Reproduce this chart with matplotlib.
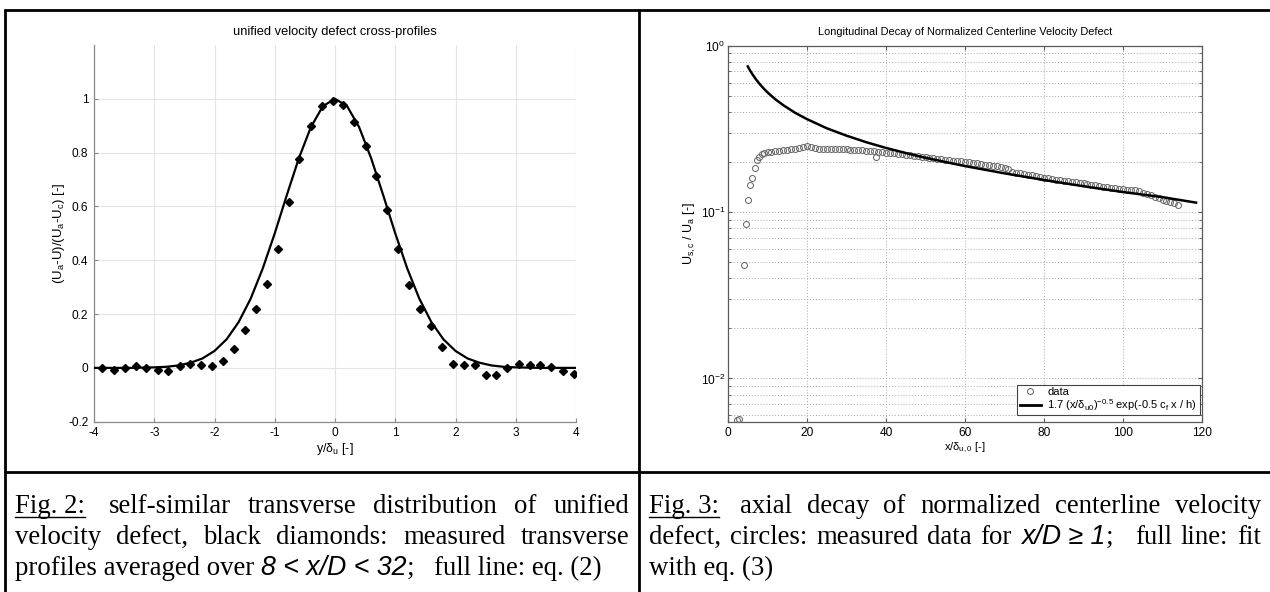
import matplotlib
matplotlib.use('Agg')
import matplotlib.pyplot as plt
from matplotlib.lines import Line2D
from matplotlib.ticker import FixedLocator, FixedFormatter, LogLocator, NullFormatter

plt.rcParams['font.family'] = ['Liberation Sans', 'DejaVu Sans']
plt.rcParams['mathtext.default'] = 'regular'
plt.rcParams['axes.unicode_minus'] = False

W, H, DPI = 1270, 592, 100

# ---------------- Fig. 2 data (transverse profile) ----------------
diamond_pos = [-3.86, -3.67, -3.49, -3.31, -3.13, -2.94, -2.77, -2.58, -2.40, -2.22, -2.04,
               -1.86, -1.67, -1.49, -1.31, -1.13, -0.94, -0.77, -0.59, -0.40, -0.22, -0.04,
               0.14, 0.32, 0.51, 0.68, 0.87, 1.05, 1.23, 1.41, 1.59, 1.78, 1.96,
               2.14, 2.32, 2.50, 2.68, 2.86, 3.05, 3.23, 3.41, 3.59, 3.78, 3.96]
diamond_val = [0.000, -0.006, 0.000, 0.007, 0.001, -0.009, -0.010, 0.006, 0.015, 0.011, 0.006,
               0.027, 0.072, 0.141, 0.219, 0.311, 0.441, 0.616, 0.775, 0.900, 0.972, 0.991,
               0.978, 0.913, 0.823, 0.714, 0.587, 0.443, 0.307, 0.219, 0.157, 0.077, 0.014,
               0.010, 0.009, -0.026, -0.025, -0.001, 0.015, 0.009, 0.009, 0.002, -0.012, -0.024]
eq2_pos = [-4.0, -3.8, -3.6, -3.4, -3.2, -3.0, -2.8, -2.6, -2.4, -2.2, -2.0, -1.8, -1.6, -1.4,
           -1.2, -1.0, -0.8, -0.6, -0.4, -0.2, 0.0, 0.2, 0.4, 0.6, 0.8, 1.0, 1.2, 1.4, 1.6,
           1.8, 2.0, 2.2, 2.4, 2.6, 2.8, 3.0, 3.2, 3.4, 3.6, 3.8, 4.0]
eq2_val = [0.000, 0.000, 0.000, 0.000, 0.001, 0.002, 0.004, 0.009, 0.019, 0.035, 0.063, 0.106,
           0.170, 0.257, 0.369, 0.500, 0.642, 0.779, 0.895, 0.973, 1.000, 0.973, 0.895, 0.779,
           0.642, 0.500, 0.369, 0.257, 0.170, 0.106, 0.063, 0.035, 0.019, 0.009, 0.004, 0.002,
           0.001, 0.000, 0.000, 0.000, 0.000]
left_xticks = [-4, -3, -2, -1, 0, 1, 2, 3, 4]
left_yticks = [-0.2, 0.0, 0.2, 0.4, 0.6, 0.8, 1.0]
left_ytick_labels = ['-0.2', '0', '0.2', '0.4', '0.6', '0.8', '1']

# ---------------- Fig. 3 data (axial decay) ----------------
decay_x = [2.2, 2.8, 4.0, 4.6, 5.0, 5.6, 6.2, 6.8, 7.4, 7.9, 8.5,
           9, 10, 11, 12, 13, 14, 15, 16, 17, 18, 19, 20, 21, 22, 23, 24, 25, 26, 27, 28,
           29, 30, 31, 32, 33, 34, 35, 36, 37, 37.5, 38, 39, 40, 41, 42, 43, 44, 45, 46, 47,
           48, 49, 50, 51, 52, 53, 54, 55, 56, 57, 58, 59, 60, 61, 62, 63, 64, 65, 66, 67,
           68, 69, 70, 71, 72, 73, 74, 75, 76, 77, 78, 79, 80, 81, 82, 83, 84, 85, 86, 87,
           88, 89, 90, 91, 92, 93, 94, 95, 96, 97, 98, 99, 100, 101, 102, 103, 104, 105, 106,
           107, 108, 109, 110, 111, 112, 113, 114]
decay_val = [0.0056, 0.0057, 0.0483, 0.085, 0.118, 0.145, 0.160, 0.185, 0.205, 0.213, 0.222,
             0.228, 0.231, 0.229, 0.233, 0.232, 0.236, 0.235, 0.239, 0.241, 0.244, 0.247, 0.250,
             0.246, 0.243, 0.241, 0.240, 0.241, 0.239, 0.240, 0.238, 0.239, 0.238, 0.236, 0.237,
             0.235, 0.236, 0.233, 0.232, 0.232, 0.214, 0.231, 0.229, 0.227, 0.228, 0.225, 0.223,
             0.222, 0.220, 0.219, 0.217, 0.216, 0.214, 0.213, 0.212, 0.210, 0.209, 0.208, 0.206,
             0.205, 0.204, 0.203, 0.202, 0.200, 0.199, 0.198, 0.196, 0.195, 0.193, 0.192, 0.190,
             0.189, 0.187, 0.185, 0.182, 0.175, 0.172, 0.171, 0.169, 0.168, 0.166, 0.164, 0.163,
             0.161, 0.160, 0.158, 0.157, 0.156, 0.154, 0.153, 0.152, 0.151, 0.150, 0.149, 0.147,
             0.146, 0.145, 0.144, 0.142, 0.141, 0.140, 0.139, 0.138, 0.137, 0.136, 0.135, 0.135,
             0.134, 0.131, 0.129, 0.127, 0.124, 0.122, 0.119, 0.117, 0.115, 0.113, 0.111]
fit_x = [5, 5.5, 6, 7, 8, 9, 10, 12, 14, 17, 20, 25, 30, 35, 40, 45, 50, 60, 70, 80, 90,
         100, 110, 118.5]
fit_val = [0.751, 0.715, 0.684, 0.631, 0.589, 0.554, 0.524, 0.476, 0.439, 0.395, 0.362, 0.319,
           0.288, 0.263, 0.243, 0.2265, 0.212, 0.189, 0.171, 0.156, 0.143, 0.132, 0.123, 0.114]
right_xticks = [0, 20, 40, 60, 80, 100, 120]

# ---------------- figure ----------------
fig = plt.figure(figsize=(W / DPI, H / DPI), dpi=DPI)
fig.patch.set_facecolor('white')


def rect(x0, y_top, x1, y_bot):
    return [x0 / W, 1 - y_bot / H, (x1 - x0) / W, (y_bot - y_top) / H]


# ---- left chart ----
axL = fig.add_axes(rect(94, 45, 576, 421.7))
axL.plot(eq2_pos, eq2_val, color='black', lw=1.6, solid_joinstyle='round', zorder=3)
axL.plot(diamond_pos, diamond_val, ls='none', marker='D', ms=3.8, color='black', zorder=4)
axL.set_xlim(-4, 4)
axL.set_ylim(-0.2, 1.2)
axL.xaxis.set_major_locator(FixedLocator(left_xticks))
axL.yaxis.set_major_locator(FixedLocator(left_yticks))
axL.yaxis.set_major_formatter(FixedFormatter(left_ytick_labels))
for s in ('top', 'right'):
    axL.spines[s].set_visible(False)
for s in ('left', 'bottom'):
    axL.spines[s].set_color('#8a8a8a')
    axL.spines[s].set_linewidth(0.9)
axL.grid(True, color='#e4e4e4', lw=0.8)
axL.set_axisbelow(True)
axL.tick_params(direction='in', length=3, width=0.8, color='#8a8a8a', labelsize=8.6, pad=4,
                top=False, right=False)
axL.set_title('unified velocity defect cross-profiles', fontsize=9.3, pad=7)
axL.set_xlabel('y/δ$_{u}$ [-]', fontsize=9)
axL.set_ylabel('(U$_{a}$-U)/(U$_{a}$-U$_{c}$) [-]', fontsize=9.5)
axL.xaxis.set_label_coords(0.5, -0.052)
axL.yaxis.set_label_coords(-0.056, 0.5)

# ---- right chart ----
axR = fig.add_axes(rect(728, 45.7, 1202, 421.7))
hdata, = axR.plot(decay_x, decay_val, ls='none', marker='o', ms=4.3, mfc='none',
                  mec='#6a6a6a', mew=0.75, label='data', zorder=3)
hfit, = axR.plot(fit_x, fit_val, color='black', lw=1.8, solid_joinstyle='round', zorder=4,
                 label='1.7 (x/δ$_{u0}$)$^{-0.5}$ exp(-0.5 c$_{f}$ x / h)')
axR.set_yscale('log')
axR.set_xlim(0, 120)
axR.set_ylim(0.0055, 1)
axR.xaxis.set_major_locator(FixedLocator(right_xticks))
axR.yaxis.set_major_locator(LogLocator(base=10))
axR.yaxis.set_minor_locator(LogLocator(base=10, subs=[2, 3, 4, 5, 6, 7, 8, 9]))
axR.yaxis.set_minor_formatter(NullFormatter())
for s in axR.spines.values():
    s.set_color('#5a5a5a')
    s.set_linewidth(0.9)
axR.grid(True, which='major', ls=(0, (1, 2)), color='#a8a8a8', lw=0.7)
axR.grid(True, which='minor', axis='y', ls=(0, (1, 2)), color='#a8a8a8', lw=0.7)
axR.set_axisbelow(True)
axR.tick_params(which='both', direction='in', top=True, right=True, color='#5a5a5a')
axR.tick_params(which='major', length=3, labelsize=8.6, pad=4)
axR.tick_params(which='minor', length=2)
axR.tick_params(axis='y', which='major', pad=2)
axR.set_title('Longitudinal Decay of Normalized Centerline Velocity Defect', fontsize=7.95, pad=8)
axR.set_xlabel('x/δ$_{u,0}$ [-]', fontsize=8)
axR.set_ylabel('U$_{s,c}$ / U$_{a}$ [-]', fontsize=9)
axR.xaxis.set_label_coords(0.5, -0.05)
axR.yaxis.set_label_coords(-0.064, 0.5)
leg = axR.legend(handles=[hdata, hfit], loc='lower right', bbox_to_anchor=(0.995, 0.018),
                 borderaxespad=0, fontsize=8.0, frameon=True, fancybox=False,
                 edgecolor='#444444', framealpha=1, numpoints=1, handlelength=1.9,
                 handletextpad=0.6, labelspacing=0.0, borderpad=0.2)
leg.get_frame().set_linewidth(0.8)
leg.legend_handles[1].set_linewidth(2.0)

# ---- table lines ----
def hline(y, x0, x1):
    fig.add_artist(Line2D([x0 / W, x1 / W], [1 - y / H] * 2, color='black', lw=2.0,
                          solid_capstyle='butt'))


def vline(x, y0, y1):
    fig.add_artist(Line2D([x / W] * 2, [1 - y0 / H, 1 - y1 / H], color='black', lw=2.0,
                          solid_capstyle='butt'))


hline(10, 4, W)
hline(471.7, 4, W)
vline(5, 9, H)
vline(638.5, 9, H)

# ---- captions (justified text) ----
renderer = fig.canvas.get_renderer()
CAP_PT = 19.3
SERIF = ['Liberation Serif', 'DejaVu Serif']
SANS = ['Liberation Sans', 'DejaVu Sans']


def make_text(txt, kind):
    if kind == 'it':
        return fig.text(0, 0, txt, fontsize=CAP_PT, family=SANS, style='italic',
                        va='baseline', ha='left')
    return fig.text(0, 0, txt, fontsize=CAP_PT, family=SERIF, va='baseline', ha='left')


_a = make_text('n n', 'rm')
_b = make_text('nn', 'rm')
SPACE = _a.get_window_extent(renderer).width - _b.get_window_extent(renderer).width
_a.remove()
_b.remove()


def caption_line(tokens, x0, x1, base, justify):
    arts = []
    for txt, kind, gap in tokens:
        t = make_text(txt, kind)
        arts.append((t, t.get_window_extent(renderer).width, kind, gap))
    natural = sum(a[1] for a in arts) + sum(a[3] * SPACE for a in arts[:-1])
    ngaps = sum(1 for a in arts[:-1] if a[3] > 0)
    extra = (x1 - x0 - natural) / ngaps if (justify and ngaps) else 0.0
    x = x0
    for t, w, kind, gap in arts:
        t.set_position((x / W, 1 - base / H))
        if kind == 'ul':
            fig.add_artist(Line2D([x / W, (x + w) / W], [1 - (base + 3.5) / H] * 2,
                                  color='black', lw=1.0))
        x += w + gap * SPACE + (extra if gap > 0 else 0.0)


def words(s, kind='rm'):
    return [(w, kind, 1) for w in s.split(' ')]


BASES = [513, 544, 575]

left_lines = [
    ([('Fig. 2:', 'ul', 2)] + words('self-similar transverse distribution of unified'), True),
    (words('velocity defect, black diamonds: measured transverse'), True),
    ([('profiles averaged over', 'rm', 1), ('8 < x/D < 32', 'it', 0), (';', 'rm', 3),
      ('full line: eq. (2)', 'rm', 0)], False),
]
right_lines = [
    ([('Fig. 3:', 'ul', 2)] + words('axial decay of normalized centerline velocity'), True),
    (words('defect, circles: measured data for') + [('x/D ≥ 1', 'it', 0), (';', 'rm', 3)]
     + words('full line: fit'), True),
    ([('with eq. (3)', 'rm', 0)], False),
]
for (toks, just), b in zip(left_lines, BASES):
    caption_line(toks, 15, 629, b, just)
for (toks, just), b in zip(right_lines, BASES):
    caption_line(toks, 649, 1261, b, just)

fig.savefig('out.png', dpi=DPI, facecolor='white')
